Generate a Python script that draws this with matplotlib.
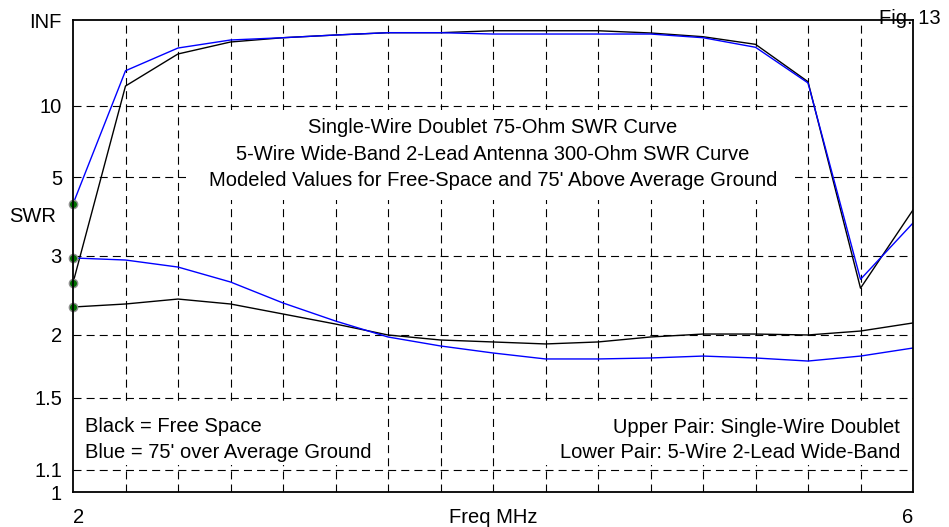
import numpy as np
import matplotlib
matplotlib.use("Agg")
import matplotlib.pyplot as plt
from matplotlib.patches import Rectangle

# ---------- data (SWR, 0.25 MHz steps) ----------
freq = [2.0, 2.25, 2.5, 2.75, 3.0, 3.25, 3.5, 3.75, 4.0, 4.25, 4.5, 4.75, 5.0, 5.25, 5.5, 5.75, 6.0]
doublet_free = [2.59, 13.3, 26.8, 41.9, 52.3, 61.9, 73.4, 73.4, 86.9, 86.9, 86.9, 71.7, 55.5, 37.8, 14.3, 2.52, 3.97]
doublet_gnd = [4.13, 17.6, 32.7, 46.2, 52.3, 61.9, 73.4, 73.4, 66.3, 66.3, 66.3, 66.3, 52.3, 33.6, 14.0, 2.64, 3.65]
wide_free = [2.289, 2.324, 2.383, 2.324, 2.211, 2.105, 1.997, 1.950, 1.932, 1.914, 1.932, 1.978, 2.006, 2.006, 1.997, 2.035, 2.116]
wide_gnd = [2.967, 2.933, 2.821, 2.603, 2.336, 2.136, 1.978, 1.896, 1.835, 1.785, 1.785, 1.793, 1.809, 1.793, 1.768, 1.809, 1.878]

swr_ticks = [1, 1.1, 1.5, 2, 3, 5, 10, 1e9]
swr_labels = ["1", "1.1", "1.5", "2", "3", "5", "10", "INF"]
grid_freqs = np.arange(2.25, 6.0, 0.25)

FONT = "Liberation Sans"
FS = 14.5


def fwd(s):
    s = np.asarray(s, float)
    return (s - 1) / (s + 1)          # reflection coefficient


def inv(r):
    r = np.clip(np.asarray(r, float), -0.999999, 0.999999999)
    return (1 + r) / (1 - r)


plt.rcParams["font.family"] = [FONT, "DejaVu Sans"]

fig = plt.figure(figsize=(9.49, 5.27), dpi=100)
ax = fig.add_axes([73 / 949, 35 / 527, 840 / 949, 472 / 527])
ax.set_yscale("function", functions=(fwd, inv))
ax.set_xlim(2, 6)
ax.set_ylim(1, 1e9)

# dashed grid (drawn under the white text panels)
gkw = dict(color="black", lw=0.8, dashes=(7.2, 4.6), zorder=0.5)
for f in grid_freqs:
    ax.axvline(f, **gkw)
for s in swr_ticks[1:-1]:
    ax.axhline(s, **gkw)

# white panels behind the annotations
for (x0, y0, w, h) in [(0.1345, 0.6186, 0.725, 0.1907),
                       (0.008, 0.057, 0.358, 0.127),
                       (0.556, 0.057, 0.424, 0.127)]:
    ax.add_patch(Rectangle((x0, y0), w, h, transform=ax.transAxes,
                           facecolor="white", edgecolor="none", zorder=1))

ax.plot(freq, doublet_free, color="black", lw=1.0, zorder=3)
ax.plot(freq, wide_free, color="black", lw=1.0, zorder=3)
ax.plot(freq, doublet_gnd, color="#0000ff", lw=1.0, zorder=3)
ax.plot(freq, wide_gnd, color="#0000ff", lw=1.0, zorder=3)

# source markers at the left edge
starts = [doublet_free[0], doublet_gnd[0], wide_free[0], wide_gnd[0]]
ax.plot([freq[0]] * 4, starts, ls="none", marker="o", ms=6, mfc="#007000",
        mec="#909090", mew=1.0, zorder=4, clip_on=False)

ax.set_yticks(swr_ticks)
ax.set_yticklabels(swr_labels)
ax.set_xticks([])
ax.tick_params(axis="y", length=0, pad=8, labelsize=FS)
for sp in ax.spines.values():
    sp.set_linewidth(1.3)
    sp.set_zorder(5)

tkw = dict(fontsize=FS, transform=ax.transAxes, zorder=2)
ax.text(0.5, 0.7712, "Single-Wire Doublet 75-Ohm SWR Curve", ha="center", va="center", **tkw)
ax.text(0.5, 0.7161, "5-Wire Wide-Band 2-Lead Antenna 300-Ohm SWR Curve", ha="center", va="center", **tkw)
ax.text(0.5, 0.661, "Modeled Values for Free-Space and 75' Above Average Ground", ha="center", va="center", **tkw)
ax.text(0.0143, 0.139, "Black = Free Space", ha="left", va="center", **tkw)
ax.text(0.0143, 0.0847, "Blue = 75' over Average Ground", ha="left", va="center", **tkw)
ax.text(0.9845, 0.137, "Upper Pair: Single-Wire Doublet", ha="right", va="center", **tkw)
ax.text(0.9845, 0.0847, "Lower Pair: 5-Wire 2-Lead Wide-Band", ha="right", va="center", **tkw)

xt = ax.get_xaxis_transform()
ax.text(2.0, -0.055, "2", ha="left", va="center", fontsize=FS, transform=xt)
ax.text(6.0, -0.055, "6", ha="right", va="center", fontsize=FS, transform=xt)
ax.text(4.0, -0.053, "Freq MHz", ha="center", va="center", fontsize=FS, transform=xt)

fig.text(9 / 949, 1 - 217 / 527, "SWR", ha="left", va="center", fontsize=FS)
fig.text(941 / 949, 1 - 19 / 527, "Fig. 13", ha="right", va="center", fontsize=FS)

fig.savefig("out.png", dpi=100)
